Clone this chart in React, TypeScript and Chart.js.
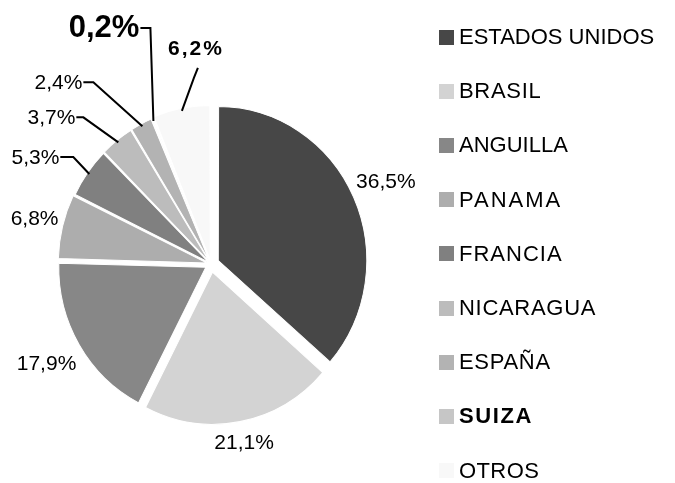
import { useEffect, useRef } from 'react';
import { Chart, registerables } from 'chart.js';

Chart.register(...registerables);

// ---- data ----
const categories = ['ESTADOS UNIDOS', 'BRASIL', 'ANGUILLA', 'PANAMA', 'FRANCIA', 'NICARAGUA', 'ESPAÑA', 'SUIZA', 'OTROS'];
const shares = [36.5, 21.1, 17.9, 6.8, 5.3, 3.7, 2.4, 0.2, 6.2];
const valueLabels = ['36,5%', '21,1%', '17,9%', '6,8%', '5,3%', '3,7%', '2,4%', '0,2%', '6,2%'];

// ---- styles ----
const sliceColors = ['#474747', '#d3d3d3', '#878787', '#adadad', '#808080', '#bcbcbc', '#b3b3b3', '#c6c6c6', '#f8f8f8'];
// visible explosion distance in px (Chart.js v4 draws offset / 4)
const sliceOffsets = [8, 8, 6, 4, 3, 3, 3, 3, 4];
const PIE_RADIUS = 146.5;
const PIE_STRETCH_Y = 1.037;
const legendBold = [false, false, false, false, false, false, false, true, false];
const legendSpacing = [0, 0.7, 0, 2, 1, 0.7, 0.7, 1.6, 0.4];
const FONT = '"Liberation Sans", Arial, sans-serif';

type Layout =
  | { kind: 'radial'; gap: number }
  | { kind: 'leader'; elbow: [number, number]; tail: [number, number]; align: 'right' | 'center' };

const labelLayout: Layout[] = [
  { kind: 'radial', gap: 7 },
  { kind: 'radial', gap: 9 },
  { kind: 'radial', gap: 9 },
  { kind: 'radial', gap: 6 },
  { kind: 'leader', elbow: [-16, -17], tail: [-13, 0], align: 'right' },
  { kind: 'leader', elbow: [-35, -25], tail: [-7, 0], align: 'right' },
  { kind: 'leader', elbow: [-49, -44], tail: [-10, 0], align: 'right' },
  { kind: 'leader', elbow: [-3, -93], tail: [-10, 0], align: 'right' },
  { kind: 'leader', elbow: [12, -33], tail: [4, -10], align: 'center' },
];
const labelFonts = [
  `21px ${FONT}`, `21px ${FONT}`, `21px ${FONT}`, `21px ${FONT}`, `21px ${FONT}`,
  `21px ${FONT}`, `21px ${FONT}`, `bold 31px ${FONT}`, `bold 21px ${FONT}`,
];
const labelSpacing = [0, 0, 0, 0, 0, 0, 0, 0, 2];

const pieCenter = (chart: any) => {
  const a = chart.chartArea;
  return { cx: (a.left + a.right) / 2, cy: (a.top + a.bottom) / 2 };
};

const labelPlugin = {
  id: 'sliceLabels',
  beforeDatasetsDraw(chart: any) {
    const ctx = chart.ctx as CanvasRenderingContext2D;
    const { cx, cy } = pieCenter(chart);
    ctx.save();
    ctx.translate(cx, cy);
    ctx.scale(1, PIE_STRETCH_Y);
    ctx.translate(-cx, -cy);
  },
  afterDatasetsDraw(chart: any) {
    const ctx = chart.ctx as CanvasRenderingContext2D;
    ctx.restore();
    const meta = chart.getDatasetMeta(0);
    meta.data.forEach((arc: any, i: number) => {
      const p = arc.getProps(['x', 'y', 'startAngle', 'endAngle', 'outerRadius'], true);
      const mid = (p.startAngle + p.endAngle) / 2;
      const dx = Math.cos(mid);
      const dy = Math.sin(mid);
      const r = p.outerRadius + sliceOffsets[i];
      const ax = p.x + dx * r;
      const ay = p.y + dy * r * PIE_STRETCH_Y;
      const lay = labelLayout[i];
      ctx.save();
      ctx.font = labelFonts[i];
      (ctx as any).letterSpacing = `${labelSpacing[i]}px`;
      ctx.fillStyle = '#000';
      if (lay.kind === 'radial') {
        const w = ctx.measureText(valueLabels[i]).width;
        const h = 16;
        const ext = (w / 2) * Math.abs(dx) + (h / 2) * Math.abs(dy);
        const lx = ax + dx * (lay.gap + ext);
        const ly = ay + dy * (lay.gap + ext);
        ctx.textAlign = 'center';
        ctx.textBaseline = 'middle';
        ctx.fillText(valueLabels[i], lx, ly);
      } else {
        const ex = ax + lay.elbow[0];
        const ey = ay + lay.elbow[1];
        const tx = ex + lay.tail[0];
        const ty = ey + lay.tail[1];
        ctx.strokeStyle = '#000';
        ctx.lineWidth = 2;
        ctx.beginPath();
        ctx.moveTo(ax, ay);
        ctx.lineTo(ex, ey);
        ctx.lineTo(tx, ty);
        ctx.stroke();
        if (lay.align === 'right') {
          ctx.textAlign = 'right';
          ctx.textBaseline = 'middle';
          ctx.fillText(valueLabels[i], tx - 1, ty + 1);
        } else {
          ctx.textAlign = 'center';
          ctx.textBaseline = 'alphabetic';
          ctx.fillText(valueLabels[i], tx - 2, ty - 13);
        }
      }
      ctx.restore();
    });
  },
};

const legendPlugin = {
  id: 'sideLegend',
  afterDraw(chart: any) {
    const ctx = chart.ctx as CanvasRenderingContext2D;
    const boxX = 439;
    const box = 15;
    const textX = 459;
    const top = 37;
    const step = 54.2;
    categories.forEach((name, i) => {
      const y = top + i * step;
      ctx.save();
      ctx.fillStyle = sliceColors[i];
      ctx.fillRect(boxX, Math.round(y - box / 2), box, box);
      ctx.fillStyle = '#000';
      ctx.font = `${legendBold[i] ? 'bold ' : ''}22px ${FONT}`;
      (ctx as any).letterSpacing = `${legendSpacing[i]}px`;
      ctx.textAlign = 'left';
      ctx.textBaseline = 'middle';
      ctx.fillText(name, textX, y + 1);
      ctx.restore();
    });
  },
};

export default function App() {
  const ref = useRef<HTMLCanvasElement | null>(null);
  useEffect(() => {
    if (!ref.current) return;
    const chart = new Chart(ref.current, {
      type: 'pie',
      data: {
        labels: categories,
        datasets: [
          {
            data: shares,
            backgroundColor: sliceColors,
            borderColor: '#ffffff',
            borderWidth: 1,
            offset: sliceOffsets.map((o) => o * 4),
            radius: PIE_RADIUS,
          } as any,
        ],
      },
      options: {
        animation: false,
        responsive: false,
        events: [],
        layout: { padding: { left: 0, right: 253, top: 45, bottom: 0 } },
        plugins: {
          legend: { display: false },
          tooltip: { enabled: false },
        },
      },
      plugins: [labelPlugin, legendPlugin],
    });
    return () => chart.destroy();
  }, []);
  return (
    <div style={{ position: 'absolute', left: 0, top: 0, width: 675, height: 483, background: '#fff' }}>
      <canvas ref={ref} width={675} height={483} />
    </div>
  );
}
